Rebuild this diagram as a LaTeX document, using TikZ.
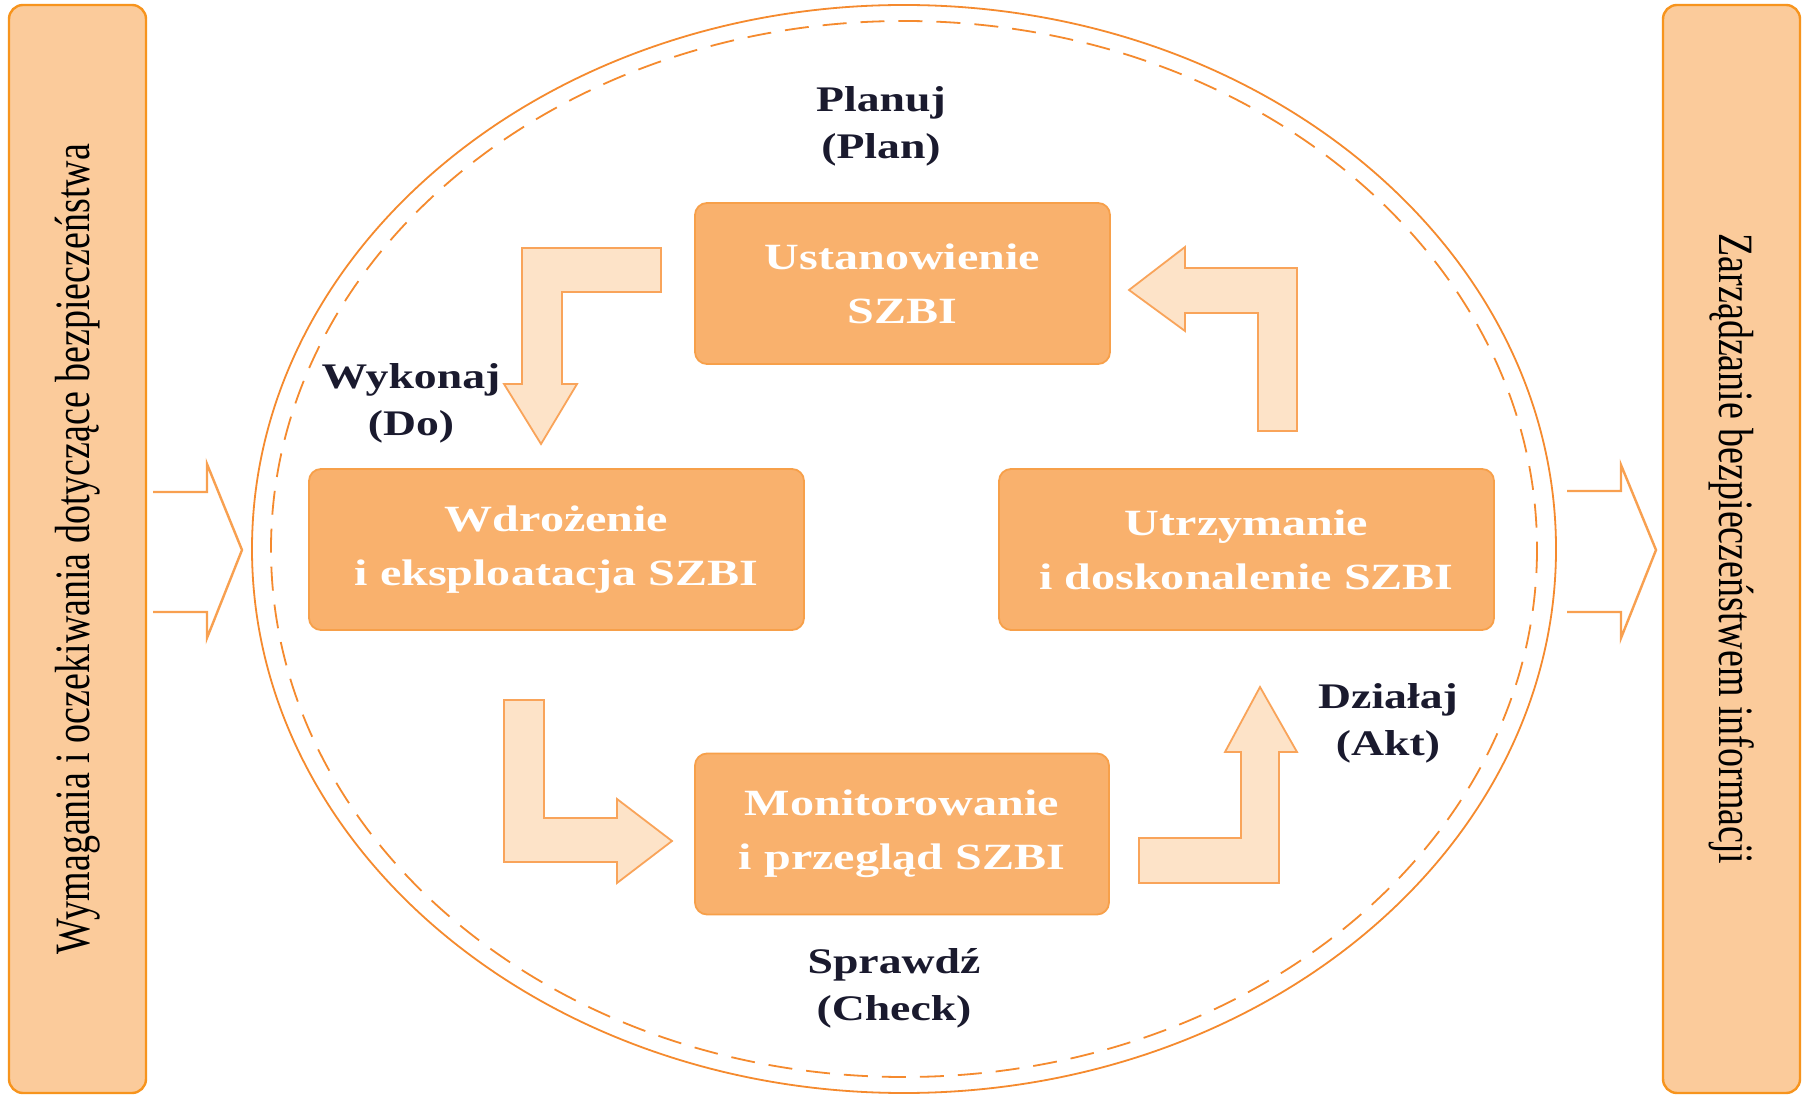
\documentclass[tikz,border=0pt]{standalone}
\usepackage{fontspec}
\usepackage{graphicx}
\setmainfont{Liberation Serif}
\newfontfamily\boxfont[FakeStretch=1.3]{Liberation Serif}
\newfontfamily\lblfont[FakeStretch=1.27]{Liberation Serif}
\definecolor{barfill}{HTML}{FBCB9B}
\definecolor{barline}{HTML}{F7941D}
\definecolor{boxfill}{HTML}{F9B16D}
\definecolor{boxline}{HTML}{F7A04A}
\definecolor{arrowfill}{HTML}{FDE3C8}
\definecolor{arrowline}{HTML}{F9A45A}
\definecolor{ringline}{HTML}{F58A2E}
\definecolor{flowline}{HTML}{F8A050}
\definecolor{navy}{HTML}{1A1A2E}
\begin{document}
\begin{tikzpicture}[x=0.5pt,y=-0.5pt,
  sidebar/.style={draw=barline, fill=barfill, line width=1.2pt, rounded corners=7pt,
    minimum width=544pt, minimum height=68.5pt, inner sep=0pt, outer sep=0pt,
    font=\fontsize{19}{22}\selectfont, text=black},
  stage/.style={draw=boxline, fill=boxfill, line width=0.9pt, rounded corners=6pt,
    minimum height=80.5pt, inner sep=0pt, outer sep=0pt, align=center, text=white,
    font=\boxfont\bfseries\fontsize{18.5}{27}\selectfont},
  phase/.style={align=center, text=navy, inner sep=0pt,
    font=\lblfont\bfseries\fontsize{18}{23.5}\selectfont},
  bentarrow/.style={draw=arrowline, fill=arrowfill, line width=0.9pt, line join=miter},
  flow/.style={draw=flowline, line width=1.2pt, line join=miter},
  ring/.style={draw=ringline, line width=0.9pt}
]
\useasboundingbox (0,0) rectangle (1808,1095);
\fill[white] (0,0) rectangle (1808,1095);

% side bars
\node[sidebar, rotate=90] (leftbar) at (77.5,549)
  {\scalebox{1}[1.3]{Wymagania i oczekiwania dotyczące bezpieczeństwa}};
\node[sidebar, rotate=-90] (rightbar) at (1731.5,549)
  {\scalebox{1}[1.3]{Zarządzanie bezpieczeństwem informacji}};

% rings
\draw[ring] (904,549) ellipse [x radius=652, y radius=544];
\draw[ring, dash pattern=on 12pt off 7pt] (904,549) ellipse [x radius=633, y radius=528];

% outline arrows outside
\draw[flow] (153,492) -- (207,492) -- (207,464) -- (242,550) -- (207,638) -- (207,612) -- (153,612);
\draw[flow] (1567,491) -- (1621,491) -- (1621,465) -- (1656,550) -- (1621,638) -- (1621,612) -- (1567,612);

% stage boxes
\node[stage, minimum width=207.5pt] (est) at (902.5,283.5) {Ustanowienie\\SZBI};
\node[stage, minimum width=247.5pt] (impl) at (556.5,549.5) {Wdrożenie\\i eksploatacja SZBI};
\node[stage, minimum width=247.5pt] (maint) at (1246.5,549.5) {Utrzymanie\\i doskonalenie SZBI};
\node[stage, minimum width=207pt] (mon) at (902,834) {Monitorowanie\\i przegląd SZBI};

% bent block arrows
\draw[bentarrow] (661,248) -- (522,248) -- (522,384) -- (504,384) -- (541,444) -- (577,384) -- (562,384) -- (562,292) -- (661,292) -- cycle;
\draw[bentarrow] (1258,431) -- (1297,431) -- (1297,268) -- (1185,268) -- (1185,247) -- (1129,290) -- (1185,331) -- (1185,313) -- (1258,313) -- cycle;
\draw[bentarrow] (504,700) -- (544,700) -- (544,818) -- (617,818) -- (617,799) -- (672,841) -- (617,883) -- (617,862) -- (504,862) -- cycle;
\draw[bentarrow] (1139,838) -- (1241,838) -- (1241,752) -- (1225,752) -- (1260,687) -- (1297,752) -- (1279,752) -- (1279,883) -- (1139,883) -- cycle;

% phase labels
\node[phase] (plan) at (881,126) {Planuj\\(Plan)};
\node[phase] (do) at (411,403) {Wykonaj\\(Do)};
\node[phase] (act) at (1388,723) {Działaj\\(Akt)};
\node[phase] (check) at (894,988) {Sprawdź\\(Check)};
\end{tikzpicture}
\end{document}
